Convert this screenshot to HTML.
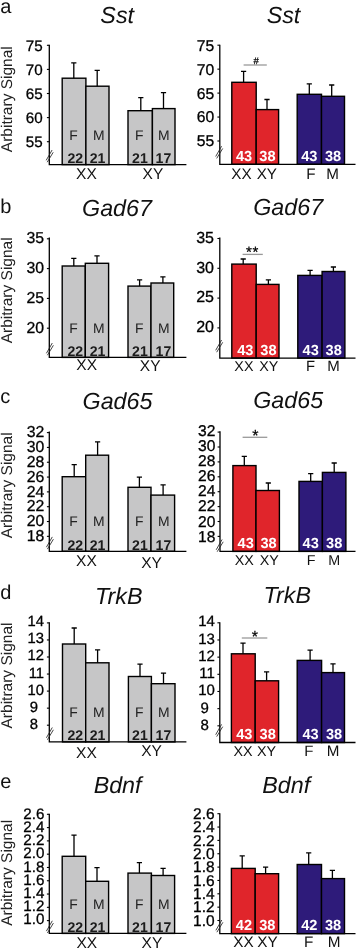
<!DOCTYPE html>
<html><head><meta charset="utf-8"><title>figure</title>
<style>
html,body{margin:0;padding:0;background:#fff;}
body{width:358px;height:949px;overflow:hidden;font-family:"Liberation Sans", sans-serif;}
svg{display:block;font-family:"Liberation Sans", sans-serif;text-rendering:geometricPrecision;will-change:transform;}
</style></head><body>
<svg width="358" height="949" viewBox="0 0 358 949">
<rect width="358" height="949" fill="#fff"/>
<text x="0.30" y="12.70" font-size="20" text-anchor="start" font-weight="normal" font-style="normal" fill="#111" >a</text>
<text transform="translate(12.00 99.20) rotate(-90)" font-size="15.5" text-anchor="middle" fill="#222">Arbitrary Signal</text>
<text x="117.20" y="23.20" font-size="23.3" text-anchor="middle" font-weight="normal" font-style="italic" fill="#111" >Sst</text>
<rect x="62.20" y="78.20" width="23.70" height="86.40" fill="#c6c6c7" stroke="#000" stroke-width="1.4"/>
<path d="M73.80 78.20V62.90M71.20 62.90H76.40" stroke="#000" stroke-width="1.3" fill="none"/>
<text x="73.60" y="140.30" font-size="13.9" text-anchor="middle" font-weight="normal" font-style="normal" fill="#222" >F</text>
<text x="75.30" y="163.10" font-size="14.1" text-anchor="middle" font-weight="bold" font-style="normal" fill="#1c1c1c" >22</text>
<rect x="85.90" y="86.20" width="23.10" height="78.40" fill="#c6c6c7" stroke="#000" stroke-width="1.4"/>
<path d="M97.20 86.20V70.30M94.60 70.30H99.80" stroke="#000" stroke-width="1.3" fill="none"/>
<text x="98.70" y="140.30" font-size="13.9" text-anchor="middle" font-weight="normal" font-style="normal" fill="#222" >M</text>
<text x="97.60" y="163.10" font-size="14.1" text-anchor="middle" font-weight="bold" font-style="normal" fill="#1c1c1c" >21</text>
<rect x="128.00" y="110.70" width="24.40" height="53.90" fill="#c6c6c7" stroke="#000" stroke-width="1.4"/>
<path d="M140.80 110.70V97.60M138.20 97.60H143.40" stroke="#000" stroke-width="1.3" fill="none"/>
<text x="139.20" y="140.30" font-size="13.9" text-anchor="middle" font-weight="normal" font-style="normal" fill="#222" >F</text>
<text x="139.90" y="163.10" font-size="14.1" text-anchor="middle" font-weight="bold" font-style="normal" fill="#1c1c1c" >21</text>
<rect x="152.40" y="108.60" width="22.60" height="56.00" fill="#c6c6c7" stroke="#000" stroke-width="1.4"/>
<path d="M163.50 108.60V92.60M160.90 92.60H166.10" stroke="#000" stroke-width="1.3" fill="none"/>
<text x="163.70" y="140.30" font-size="13.9" text-anchor="middle" font-weight="normal" font-style="normal" fill="#222" >M</text>
<text x="163.40" y="163.10" font-size="14.1" text-anchor="middle" font-weight="bold" font-style="normal" fill="#1c1c1c" >17</text>
<path d="M49.30 44.70V164.60H186.40" stroke="#000" stroke-width="1.3" fill="none"/>
<path d="M46.90 45.30H49.30" stroke="#000" stroke-width="1.1"/>
<text x="42.60" y="51.24" font-size="15.2" text-anchor="end" font-weight="normal" font-style="normal" fill="#000" stroke="#000" stroke-width="0.3">75</text>
<path d="M46.90 69.40H49.30" stroke="#000" stroke-width="1.1"/>
<text x="42.60" y="75.19" font-size="15.2" text-anchor="end" font-weight="normal" font-style="normal" fill="#000" stroke="#000" stroke-width="0.3">70</text>
<path d="M46.90 93.50H49.30" stroke="#000" stroke-width="1.1"/>
<text x="42.60" y="99.14" font-size="15.2" text-anchor="end" font-weight="normal" font-style="normal" fill="#000" stroke="#000" stroke-width="0.3">65</text>
<path d="M46.90 117.60H49.30" stroke="#000" stroke-width="1.1"/>
<text x="42.60" y="123.09" font-size="15.2" text-anchor="end" font-weight="normal" font-style="normal" fill="#000" stroke="#000" stroke-width="0.3">60</text>
<path d="M46.90 141.70H49.30" stroke="#000" stroke-width="1.1"/>
<text x="42.60" y="147.04" font-size="15.2" text-anchor="end" font-weight="normal" font-style="normal" fill="#000" stroke="#000" stroke-width="0.3">55</text>
<path d="M46.20 160.30L52.10 150.00M47.20 162.20L53.20 152.30" stroke="#222" stroke-width="0.85" fill="none"/>
<text x="86.40" y="179.20" font-size="15.5" text-anchor="middle" font-weight="normal" font-style="normal" fill="#111" >XX</text>
<text x="152.90" y="179.20" font-size="15.5" text-anchor="middle" font-weight="normal" font-style="normal" fill="#111" >XY</text>
<text x="283.50" y="23.20" font-size="23.3" text-anchor="middle" font-weight="normal" font-style="italic" fill="#111" >Sst</text>
<rect x="231.80" y="82.30" width="24.40" height="82.00" fill="#e0252b" stroke="#000" stroke-width="1.4"/>
<path d="M243.60 82.30V71.30M241.00 71.30H246.20" stroke="#000" stroke-width="1.3" fill="none"/>
<text x="244.00" y="160.80" font-size="14.6" text-anchor="middle" font-weight="bold" font-style="normal" fill="#fff" >43</text>
<rect x="256.20" y="109.60" width="22.40" height="54.70" fill="#e0252b" stroke="#000" stroke-width="1.4"/>
<path d="M267.00 109.60V99.50M264.40 99.50H269.60" stroke="#000" stroke-width="1.3" fill="none"/>
<text x="267.40" y="160.80" font-size="14.6" text-anchor="middle" font-weight="bold" font-style="normal" fill="#fff" >38</text>
<rect x="297.20" y="94.30" width="24.30" height="70.00" fill="#2e1b7a" stroke="#000" stroke-width="1.4"/>
<path d="M309.30 94.30V83.80M306.70 83.80H311.90" stroke="#000" stroke-width="1.3" fill="none"/>
<text x="309.35" y="160.80" font-size="14.6" text-anchor="middle" font-weight="bold" font-style="normal" fill="#fff" >43</text>
<rect x="321.50" y="96.30" width="23.00" height="68.00" fill="#2e1b7a" stroke="#000" stroke-width="1.4"/>
<path d="M331.70 96.30V85.00M329.10 85.00H334.30" stroke="#000" stroke-width="1.3" fill="none"/>
<text x="333.00" y="160.80" font-size="14.6" text-anchor="middle" font-weight="bold" font-style="normal" fill="#fff" >38</text>
<path d="M219.80 44.70V164.30H355.50" stroke="#000" stroke-width="1.3" fill="none"/>
<path d="M217.40 45.20H219.80" stroke="#000" stroke-width="1.1"/>
<text x="214.20" y="50.62" font-size="15.7" text-anchor="end" font-weight="normal" font-style="normal" fill="#000" stroke="#000" stroke-width="0.3">75</text>
<path d="M217.40 69.15H219.80" stroke="#000" stroke-width="1.1"/>
<text x="214.20" y="74.57" font-size="15.7" text-anchor="end" font-weight="normal" font-style="normal" fill="#000" stroke="#000" stroke-width="0.3">70</text>
<path d="M217.40 93.10H219.80" stroke="#000" stroke-width="1.1"/>
<text x="214.20" y="98.52" font-size="15.7" text-anchor="end" font-weight="normal" font-style="normal" fill="#000" stroke="#000" stroke-width="0.3">65</text>
<path d="M217.40 117.05H219.80" stroke="#000" stroke-width="1.1"/>
<text x="214.20" y="122.47" font-size="15.7" text-anchor="end" font-weight="normal" font-style="normal" fill="#000" stroke="#000" stroke-width="0.3">60</text>
<path d="M217.40 141.00H219.80" stroke="#000" stroke-width="1.1"/>
<text x="214.20" y="146.42" font-size="15.7" text-anchor="end" font-weight="normal" font-style="normal" fill="#000" stroke="#000" stroke-width="0.3">55</text>
<path d="M215.70 156.50L221.60 146.20M216.70 158.40L222.70 148.50" stroke="#222" stroke-width="0.85" fill="none"/>
<text x="241.40" y="178.50" font-size="15.2" text-anchor="middle" font-weight="normal" font-style="normal" fill="#111" >XX</text>
<text x="266.80" y="178.50" font-size="15.2" text-anchor="middle" font-weight="normal" font-style="normal" fill="#111" >XY</text>
<text x="311.00" y="178.50" font-size="15.2" text-anchor="middle" font-weight="normal" font-style="normal" fill="#111" >F</text>
<text x="332.70" y="178.50" font-size="15.2" text-anchor="middle" font-weight="normal" font-style="normal" fill="#111" >M</text>
<path d="M243.60 65.00H266.80" stroke="#999" stroke-width="1.3"/>
<text x="256.10" y="63.60" font-size="9.5" text-anchor="middle" font-weight="normal" font-style="normal" fill="#000" stroke="#000" stroke-width="0.25">#</text>
<text x="0.30" y="213.10" font-size="20" text-anchor="start" font-weight="normal" font-style="normal" fill="#111" >b</text>
<text transform="translate(12.20 290.30) rotate(-90)" font-size="15.5" text-anchor="middle" fill="#222">Arbitrary Signal</text>
<text x="117.00" y="216.00" font-size="23.3" text-anchor="middle" font-weight="normal" font-style="italic" fill="#111" >Gad67</text>
<rect x="62.20" y="266.00" width="23.10" height="91.40" fill="#c6c6c7" stroke="#000" stroke-width="1.4"/>
<path d="M73.80 266.00V258.40M71.20 258.40H76.40" stroke="#000" stroke-width="1.3" fill="none"/>
<text x="73.60" y="333.10" font-size="13.9" text-anchor="middle" font-weight="normal" font-style="normal" fill="#222" >F</text>
<text x="75.30" y="355.90" font-size="14.1" text-anchor="middle" font-weight="bold" font-style="normal" fill="#1c1c1c" >22</text>
<rect x="85.30" y="263.30" width="23.30" height="94.10" fill="#c6c6c7" stroke="#000" stroke-width="1.4"/>
<path d="M97.00 263.30V255.80M94.40 255.80H99.60" stroke="#000" stroke-width="1.3" fill="none"/>
<text x="98.70" y="333.10" font-size="13.9" text-anchor="middle" font-weight="normal" font-style="normal" fill="#222" >M</text>
<text x="97.60" y="355.90" font-size="14.1" text-anchor="middle" font-weight="bold" font-style="normal" fill="#1c1c1c" >21</text>
<rect x="128.00" y="286.10" width="23.00" height="71.30" fill="#c6c6c7" stroke="#000" stroke-width="1.4"/>
<path d="M139.60 286.10V279.80M137.00 279.80H142.20" stroke="#000" stroke-width="1.3" fill="none"/>
<text x="139.20" y="333.10" font-size="13.9" text-anchor="middle" font-weight="normal" font-style="normal" fill="#222" >F</text>
<text x="139.90" y="355.90" font-size="14.1" text-anchor="middle" font-weight="bold" font-style="normal" fill="#1c1c1c" >21</text>
<rect x="151.00" y="283.00" width="22.70" height="74.40" fill="#c6c6c7" stroke="#000" stroke-width="1.4"/>
<path d="M162.90 283.00V276.80M160.30 276.80H165.50" stroke="#000" stroke-width="1.3" fill="none"/>
<text x="163.70" y="333.10" font-size="13.9" text-anchor="middle" font-weight="normal" font-style="normal" fill="#222" >M</text>
<text x="163.40" y="355.90" font-size="14.1" text-anchor="middle" font-weight="bold" font-style="normal" fill="#1c1c1c" >17</text>
<path d="M49.30 237.60V357.40H186.40" stroke="#000" stroke-width="1.3" fill="none"/>
<path d="M46.90 238.80H49.30" stroke="#000" stroke-width="1.1"/>
<text x="44.00" y="242.56" font-size="15.8" text-anchor="end" font-weight="normal" font-style="normal" fill="#000" stroke="#000" stroke-width="0.3">35</text>
<path d="M46.90 268.60H49.30" stroke="#000" stroke-width="1.1"/>
<text x="44.00" y="272.59" font-size="15.8" text-anchor="end" font-weight="normal" font-style="normal" fill="#000" stroke="#000" stroke-width="0.3">30</text>
<path d="M46.90 298.40H49.30" stroke="#000" stroke-width="1.1"/>
<text x="44.00" y="302.62" font-size="15.8" text-anchor="end" font-weight="normal" font-style="normal" fill="#000" stroke="#000" stroke-width="0.3">25</text>
<path d="M46.90 328.20H49.30" stroke="#000" stroke-width="1.1"/>
<text x="44.00" y="332.65" font-size="15.8" text-anchor="end" font-weight="normal" font-style="normal" fill="#000" stroke="#000" stroke-width="0.3">20</text>
<path d="M46.40 353.30L52.30 343.00M47.40 355.20L53.40 345.30" stroke="#222" stroke-width="0.85" fill="none"/>
<text x="86.70" y="369.90" font-size="15.5" text-anchor="middle" font-weight="normal" font-style="normal" fill="#111" >XX</text>
<text x="150.20" y="371.20" font-size="15.5" text-anchor="middle" font-weight="normal" font-style="normal" fill="#111" >XY</text>
<text x="288.20" y="214.60" font-size="23.3" text-anchor="middle" font-weight="normal" font-style="italic" fill="#111" >Gad67</text>
<rect x="231.80" y="264.10" width="24.40" height="94.00" fill="#e0252b" stroke="#000" stroke-width="1.4"/>
<path d="M243.20 264.10V259.00M240.60 259.00H245.80" stroke="#000" stroke-width="1.3" fill="none"/>
<text x="245.30" y="354.60" font-size="14.6" text-anchor="middle" font-weight="bold" font-style="normal" fill="#fff" >43</text>
<rect x="256.20" y="284.40" width="22.80" height="73.70" fill="#e0252b" stroke="#000" stroke-width="1.4"/>
<path d="M268.40 284.40V279.80M265.80 279.80H271.00" stroke="#000" stroke-width="1.3" fill="none"/>
<text x="268.40" y="354.60" font-size="14.6" text-anchor="middle" font-weight="bold" font-style="normal" fill="#fff" >38</text>
<rect x="297.80" y="275.40" width="24.30" height="82.70" fill="#2e1b7a" stroke="#000" stroke-width="1.4"/>
<path d="M310.10 275.40V270.40M307.50 270.40H312.70" stroke="#000" stroke-width="1.3" fill="none"/>
<text x="310.65" y="354.60" font-size="14.6" text-anchor="middle" font-weight="bold" font-style="normal" fill="#fff" >43</text>
<rect x="322.10" y="271.50" width="22.80" height="86.60" fill="#2e1b7a" stroke="#000" stroke-width="1.4"/>
<path d="M333.40 271.50V267.00M330.80 267.00H336.00" stroke="#000" stroke-width="1.3" fill="none"/>
<text x="333.70" y="354.60" font-size="14.6" text-anchor="middle" font-weight="bold" font-style="normal" fill="#fff" >38</text>
<path d="M219.80 237.40V358.10H355.50" stroke="#000" stroke-width="1.3" fill="none"/>
<path d="M217.40 238.50H219.80" stroke="#000" stroke-width="1.1"/>
<text x="214.00" y="242.83" font-size="16" text-anchor="end" font-weight="normal" font-style="normal" fill="#000" stroke="#000" stroke-width="0.3">35</text>
<path d="M217.40 268.30H219.80" stroke="#000" stroke-width="1.1"/>
<text x="214.00" y="272.63" font-size="16" text-anchor="end" font-weight="normal" font-style="normal" fill="#000" stroke="#000" stroke-width="0.3">30</text>
<path d="M217.40 298.10H219.80" stroke="#000" stroke-width="1.1"/>
<text x="214.00" y="302.43" font-size="16" text-anchor="end" font-weight="normal" font-style="normal" fill="#000" stroke="#000" stroke-width="0.3">25</text>
<path d="M217.40 327.90H219.80" stroke="#000" stroke-width="1.1"/>
<text x="214.00" y="332.23" font-size="16" text-anchor="end" font-weight="normal" font-style="normal" fill="#000" stroke="#000" stroke-width="0.3">20</text>
<path d="M215.70 350.30L221.60 340.00M216.70 352.20L222.70 342.30" stroke="#222" stroke-width="0.85" fill="none"/>
<text x="243.90" y="371.00" font-size="14.3" text-anchor="middle" font-weight="normal" font-style="normal" fill="#111" >XX</text>
<text x="268.80" y="371.00" font-size="14.3" text-anchor="middle" font-weight="normal" font-style="normal" fill="#111" >XY</text>
<text x="310.40" y="371.00" font-size="14.8" text-anchor="middle" font-weight="normal" font-style="normal" fill="#111" >F</text>
<text x="333.50" y="371.00" font-size="15.0" text-anchor="middle" font-weight="normal" font-style="normal" fill="#111" >M</text>
<path d="M242.60 254.40H262.80" stroke="#999" stroke-width="1.3"/>
<text x="252.40" y="256.60" font-size="15" text-anchor="middle" font-weight="normal" font-style="normal" fill="#000" stroke="#000" stroke-width="0.25" letter-spacing="0.6">**</text>
<text x="0.30" y="403.40" font-size="20" text-anchor="start" font-weight="normal" font-style="normal" fill="#111" >c</text>
<text transform="translate(12.20 485.30) rotate(-90)" font-size="15.5" text-anchor="middle" fill="#222">Arbitrary Signal</text>
<text x="117.50" y="409.00" font-size="23.3" text-anchor="middle" font-weight="normal" font-style="italic" fill="#111" >Gad65</text>
<rect x="62.20" y="476.70" width="23.50" height="74.60" fill="#c6c6c7" stroke="#000" stroke-width="1.4"/>
<path d="M74.20 476.70V464.60M71.60 464.60H76.80" stroke="#000" stroke-width="1.3" fill="none"/>
<text x="73.60" y="525.50" font-size="13.9" text-anchor="middle" font-weight="normal" font-style="normal" fill="#222" >F</text>
<text x="75.30" y="549.80" font-size="14.1" text-anchor="middle" font-weight="bold" font-style="normal" fill="#1c1c1c" >22</text>
<rect x="85.70" y="455.20" width="22.90" height="96.10" fill="#c6c6c7" stroke="#000" stroke-width="1.4"/>
<path d="M97.60 455.20V441.90M95.00 441.90H100.20" stroke="#000" stroke-width="1.3" fill="none"/>
<text x="98.70" y="525.50" font-size="13.9" text-anchor="middle" font-weight="normal" font-style="normal" fill="#222" >M</text>
<text x="97.60" y="549.80" font-size="14.1" text-anchor="middle" font-weight="bold" font-style="normal" fill="#1c1c1c" >21</text>
<rect x="128.00" y="487.30" width="23.00" height="64.00" fill="#c6c6c7" stroke="#000" stroke-width="1.4"/>
<path d="M139.40 487.30V477.10M136.80 477.10H142.00" stroke="#000" stroke-width="1.3" fill="none"/>
<text x="139.20" y="525.50" font-size="13.9" text-anchor="middle" font-weight="normal" font-style="normal" fill="#222" >F</text>
<text x="139.90" y="549.80" font-size="14.1" text-anchor="middle" font-weight="bold" font-style="normal" fill="#1c1c1c" >21</text>
<rect x="151.00" y="495.10" width="23.60" height="56.20" fill="#c6c6c7" stroke="#000" stroke-width="1.4"/>
<path d="M163.10 495.10V484.90M160.50 484.90H165.70" stroke="#000" stroke-width="1.3" fill="none"/>
<text x="163.70" y="525.50" font-size="13.9" text-anchor="middle" font-weight="normal" font-style="normal" fill="#222" >M</text>
<text x="163.40" y="549.80" font-size="14.1" text-anchor="middle" font-weight="bold" font-style="normal" fill="#1c1c1c" >17</text>
<path d="M49.30 431.50V551.30H186.40" stroke="#000" stroke-width="1.3" fill="none"/>
<path d="M46.90 432.60H49.30" stroke="#000" stroke-width="1.1"/>
<text x="44.40" y="437.36" font-size="15.8" text-anchor="end" font-weight="normal" font-style="normal" fill="#000" stroke="#000" stroke-width="0.3">32</text>
<path d="M46.90 447.42H49.30" stroke="#000" stroke-width="1.1"/>
<text x="44.40" y="452.18" font-size="15.8" text-anchor="end" font-weight="normal" font-style="normal" fill="#000" stroke="#000" stroke-width="0.3">30</text>
<path d="M46.90 462.24H49.30" stroke="#000" stroke-width="1.1"/>
<text x="44.40" y="467.00" font-size="15.8" text-anchor="end" font-weight="normal" font-style="normal" fill="#000" stroke="#000" stroke-width="0.3">28</text>
<path d="M46.90 477.06H49.30" stroke="#000" stroke-width="1.1"/>
<text x="44.40" y="481.82" font-size="15.8" text-anchor="end" font-weight="normal" font-style="normal" fill="#000" stroke="#000" stroke-width="0.3">26</text>
<path d="M46.90 491.88H49.30" stroke="#000" stroke-width="1.1"/>
<text x="44.40" y="496.64" font-size="15.8" text-anchor="end" font-weight="normal" font-style="normal" fill="#000" stroke="#000" stroke-width="0.3">24</text>
<path d="M46.90 506.70H49.30" stroke="#000" stroke-width="1.1"/>
<text x="44.40" y="511.46" font-size="15.8" text-anchor="end" font-weight="normal" font-style="normal" fill="#000" stroke="#000" stroke-width="0.3">22</text>
<path d="M46.90 521.52H49.30" stroke="#000" stroke-width="1.1"/>
<text x="44.40" y="526.28" font-size="15.8" text-anchor="end" font-weight="normal" font-style="normal" fill="#000" stroke="#000" stroke-width="0.3">20</text>
<path d="M46.90 536.34H49.30" stroke="#000" stroke-width="1.1"/>
<text x="44.40" y="541.10" font-size="15.8" text-anchor="end" font-weight="normal" font-style="normal" fill="#000" stroke="#000" stroke-width="0.3">18</text>
<path d="M46.40 547.20L52.30 536.90M47.40 549.10L53.40 539.20" stroke="#222" stroke-width="0.85" fill="none"/>
<text x="86.40" y="565.60" font-size="15.5" text-anchor="middle" font-weight="normal" font-style="normal" fill="#111" >XX</text>
<text x="151.60" y="568.20" font-size="15.5" text-anchor="middle" font-weight="normal" font-style="normal" fill="#111" >XY</text>
<text x="288.20" y="408.30" font-size="23.3" text-anchor="middle" font-weight="normal" font-style="italic" fill="#111" >Gad65</text>
<rect x="232.90" y="465.60" width="23.10" height="85.80" fill="#e0252b" stroke="#000" stroke-width="1.4"/>
<path d="M244.30 465.60V456.40M241.70 456.40H246.90" stroke="#000" stroke-width="1.3" fill="none"/>
<text x="245.65" y="547.90" font-size="14.6" text-anchor="middle" font-weight="bold" font-style="normal" fill="#fff" >43</text>
<rect x="256.00" y="490.50" width="23.40" height="60.90" fill="#e0252b" stroke="#000" stroke-width="1.4"/>
<path d="M268.30 490.50V483.00M265.70 483.00H270.90" stroke="#000" stroke-width="1.3" fill="none"/>
<text x="268.50" y="547.90" font-size="14.6" text-anchor="middle" font-weight="bold" font-style="normal" fill="#fff" >38</text>
<rect x="299.00" y="481.40" width="23.40" height="70.00" fill="#2e1b7a" stroke="#000" stroke-width="1.4"/>
<path d="M310.70 481.40V473.60M308.10 473.60H313.30" stroke="#000" stroke-width="1.3" fill="none"/>
<text x="310.70" y="547.90" font-size="14.6" text-anchor="middle" font-weight="bold" font-style="normal" fill="#fff" >43</text>
<rect x="322.40" y="472.40" width="23.50" height="79.00" fill="#2e1b7a" stroke="#000" stroke-width="1.4"/>
<path d="M334.20 472.40V463.00M331.60 463.00H336.80" stroke="#000" stroke-width="1.3" fill="none"/>
<text x="334.15" y="547.90" font-size="14.6" text-anchor="middle" font-weight="bold" font-style="normal" fill="#fff" >38</text>
<path d="M220.00 431.20V551.40H355.50" stroke="#000" stroke-width="1.3" fill="none"/>
<path d="M217.60 432.10H220.00" stroke="#000" stroke-width="1.1"/>
<text x="215.40" y="435.98" font-size="15.6" text-anchor="end" font-weight="normal" font-style="normal" fill="#000" stroke="#000" stroke-width="0.3">32</text>
<path d="M217.60 447.00H220.00" stroke="#000" stroke-width="1.1"/>
<text x="215.40" y="451.08" font-size="15.6" text-anchor="end" font-weight="normal" font-style="normal" fill="#000" stroke="#000" stroke-width="0.3">30</text>
<path d="M217.60 461.90H220.00" stroke="#000" stroke-width="1.1"/>
<text x="215.40" y="466.18" font-size="15.6" text-anchor="end" font-weight="normal" font-style="normal" fill="#000" stroke="#000" stroke-width="0.3">28</text>
<path d="M217.60 476.80H220.00" stroke="#000" stroke-width="1.1"/>
<text x="215.40" y="481.28" font-size="15.6" text-anchor="end" font-weight="normal" font-style="normal" fill="#000" stroke="#000" stroke-width="0.3">26</text>
<path d="M217.60 491.70H220.00" stroke="#000" stroke-width="1.1"/>
<text x="215.40" y="496.38" font-size="15.6" text-anchor="end" font-weight="normal" font-style="normal" fill="#000" stroke="#000" stroke-width="0.3">24</text>
<path d="M217.60 506.60H220.00" stroke="#000" stroke-width="1.1"/>
<text x="215.40" y="511.48" font-size="15.6" text-anchor="end" font-weight="normal" font-style="normal" fill="#000" stroke="#000" stroke-width="0.3">22</text>
<path d="M217.60 521.50H220.00" stroke="#000" stroke-width="1.1"/>
<text x="215.40" y="526.58" font-size="15.6" text-anchor="end" font-weight="normal" font-style="normal" fill="#000" stroke="#000" stroke-width="0.3">20</text>
<path d="M217.60 536.40H220.00" stroke="#000" stroke-width="1.1"/>
<text x="215.40" y="541.68" font-size="15.6" text-anchor="end" font-weight="normal" font-style="normal" fill="#000" stroke="#000" stroke-width="0.3">18</text>
<path d="M216.20 549.80L222.10 539.50M217.20 551.70L223.20 541.80" stroke="#222" stroke-width="0.85" fill="none"/>
<text x="244.30" y="565.30" font-size="14.3" text-anchor="middle" font-weight="normal" font-style="normal" fill="#111" >XX</text>
<text x="269.30" y="565.30" font-size="14.3" text-anchor="middle" font-weight="normal" font-style="normal" fill="#111" >XY</text>
<text x="311.00" y="565.30" font-size="14.3" text-anchor="middle" font-weight="normal" font-style="normal" fill="#111" >F</text>
<text x="334.10" y="565.30" font-size="14.3" text-anchor="middle" font-weight="normal" font-style="normal" fill="#111" >M</text>
<path d="M242.60 437.30H267.30" stroke="#999" stroke-width="1.3"/>
<text x="255.30" y="441.40" font-size="16" text-anchor="middle" font-weight="normal" font-style="normal" fill="#000" stroke="#000" stroke-width="0.25">*</text>
<text x="0.30" y="598.50" font-size="20" text-anchor="start" font-weight="normal" font-style="normal" fill="#111" >d</text>
<text transform="translate(12.20 675.50) rotate(-90)" font-size="15.5" text-anchor="middle" fill="#222">Arbitrary Signal</text>
<text x="118.70" y="603.70" font-size="23.3" text-anchor="middle" font-weight="normal" font-style="italic" fill="#111" >TrkB</text>
<rect x="62.50" y="644.00" width="23.20" height="97.90" fill="#c6c6c7" stroke="#000" stroke-width="1.4"/>
<path d="M74.20 644.00V628.00M71.60 628.00H76.80" stroke="#000" stroke-width="1.3" fill="none"/>
<text x="73.60" y="716.60" font-size="13.9" text-anchor="middle" font-weight="normal" font-style="normal" fill="#222" >F</text>
<text x="75.30" y="740.40" font-size="14.1" text-anchor="middle" font-weight="bold" font-style="normal" fill="#1c1c1c" >22</text>
<rect x="85.70" y="662.80" width="23.30" height="79.10" fill="#c6c6c7" stroke="#000" stroke-width="1.4"/>
<path d="M97.60 662.80V649.90M95.00 649.90H100.20" stroke="#000" stroke-width="1.3" fill="none"/>
<text x="98.70" y="716.60" font-size="13.9" text-anchor="middle" font-weight="normal" font-style="normal" fill="#222" >M</text>
<text x="97.60" y="740.40" font-size="14.1" text-anchor="middle" font-weight="bold" font-style="normal" fill="#1c1c1c" >21</text>
<rect x="128.40" y="676.50" width="23.00" height="65.40" fill="#c6c6c7" stroke="#000" stroke-width="1.4"/>
<path d="M140.00 676.50V664.20M137.40 664.20H142.60" stroke="#000" stroke-width="1.3" fill="none"/>
<text x="139.20" y="716.60" font-size="13.9" text-anchor="middle" font-weight="normal" font-style="normal" fill="#222" >F</text>
<text x="139.90" y="740.40" font-size="14.1" text-anchor="middle" font-weight="bold" font-style="normal" fill="#1c1c1c" >21</text>
<rect x="151.40" y="683.70" width="23.60" height="58.20" fill="#c6c6c7" stroke="#000" stroke-width="1.4"/>
<path d="M163.50 683.70V673.20M160.90 673.20H166.10" stroke="#000" stroke-width="1.3" fill="none"/>
<text x="163.70" y="716.60" font-size="13.9" text-anchor="middle" font-weight="normal" font-style="normal" fill="#222" >M</text>
<text x="163.40" y="740.40" font-size="14.1" text-anchor="middle" font-weight="bold" font-style="normal" fill="#1c1c1c" >17</text>
<path d="M49.30 622.20V741.90H186.40" stroke="#000" stroke-width="1.3" fill="none"/>
<path d="M46.90 622.90H49.30" stroke="#000" stroke-width="1.1"/>
<text x="44.00" y="626.00" font-size="14.8" text-anchor="end" font-weight="normal" font-style="normal" fill="#000" stroke="#000" stroke-width="0.3">14</text>
<path d="M46.90 639.95H49.30" stroke="#000" stroke-width="1.1"/>
<text x="44.00" y="643.23" font-size="14.8" text-anchor="end" font-weight="normal" font-style="normal" fill="#000" stroke="#000" stroke-width="0.3">13</text>
<path d="M46.90 657.00H49.30" stroke="#000" stroke-width="1.1"/>
<text x="44.00" y="660.46" font-size="14.8" text-anchor="end" font-weight="normal" font-style="normal" fill="#000" stroke="#000" stroke-width="0.3">12</text>
<path d="M46.90 674.05H49.30" stroke="#000" stroke-width="1.1"/>
<text x="44.00" y="677.69" font-size="14.8" text-anchor="end" font-weight="normal" font-style="normal" fill="#000" stroke="#000" stroke-width="0.3">11</text>
<path d="M46.90 691.10H49.30" stroke="#000" stroke-width="1.1"/>
<text x="44.00" y="694.92" font-size="14.8" text-anchor="end" font-weight="normal" font-style="normal" fill="#000" stroke="#000" stroke-width="0.3">10</text>
<path d="M46.90 708.15H49.30" stroke="#000" stroke-width="1.1"/>
<text x="29.70" y="712.15" font-size="14.8" text-anchor="start" font-weight="normal" font-style="normal" fill="#000" stroke="#000" stroke-width="0.3">9</text>
<path d="M46.90 725.20H49.30" stroke="#000" stroke-width="1.1"/>
<text x="29.70" y="729.38" font-size="14.8" text-anchor="start" font-weight="normal" font-style="normal" fill="#000" stroke="#000" stroke-width="0.3">8</text>
<path d="M46.40 737.80L52.30 727.50M47.40 739.70L53.40 729.80" stroke="#222" stroke-width="0.85" fill="none"/>
<text x="86.40" y="758.40" font-size="15.5" text-anchor="middle" font-weight="normal" font-style="normal" fill="#111" >XX</text>
<text x="151.50" y="756.40" font-size="15.5" text-anchor="middle" font-weight="normal" font-style="normal" fill="#111" >XY</text>
<text x="287.30" y="602.60" font-size="23.3" text-anchor="middle" font-weight="normal" font-style="italic" fill="#111" >TrkB</text>
<rect x="231.40" y="653.80" width="23.80" height="88.70" fill="#e0252b" stroke="#000" stroke-width="1.4"/>
<path d="M243.00 653.80V643.20M240.40 643.20H245.60" stroke="#000" stroke-width="1.3" fill="none"/>
<text x="244.30" y="739.00" font-size="14.6" text-anchor="middle" font-weight="bold" font-style="normal" fill="#fff" >43</text>
<rect x="255.20" y="680.80" width="23.40" height="61.70" fill="#e0252b" stroke="#000" stroke-width="1.4"/>
<path d="M266.60 680.80V671.80M264.00 671.80H269.20" stroke="#000" stroke-width="1.3" fill="none"/>
<text x="267.70" y="739.00" font-size="14.6" text-anchor="middle" font-weight="bold" font-style="normal" fill="#fff" >38</text>
<rect x="297.20" y="660.40" width="24.40" height="82.10" fill="#2e1b7a" stroke="#000" stroke-width="1.4"/>
<path d="M310.10 660.40V650.20M307.50 650.20H312.70" stroke="#000" stroke-width="1.3" fill="none"/>
<text x="310.60" y="739.00" font-size="14.6" text-anchor="middle" font-weight="bold" font-style="normal" fill="#fff" >43</text>
<rect x="321.60" y="672.60" width="22.90" height="69.90" fill="#2e1b7a" stroke="#000" stroke-width="1.4"/>
<path d="M333.00 672.60V663.80M330.40 663.80H335.60" stroke="#000" stroke-width="1.3" fill="none"/>
<text x="334.05" y="739.00" font-size="14.6" text-anchor="middle" font-weight="bold" font-style="normal" fill="#fff" >38</text>
<path d="M219.80 622.20V742.50H355.50" stroke="#000" stroke-width="1.3" fill="none"/>
<path d="M217.40 622.80H219.80" stroke="#000" stroke-width="1.1"/>
<text x="214.90" y="626.47" font-size="15" text-anchor="end" font-weight="normal" font-style="normal" fill="#000" stroke="#000" stroke-width="0.3">14</text>
<path d="M217.40 639.97H219.80" stroke="#000" stroke-width="1.1"/>
<text x="214.90" y="643.72" font-size="15" text-anchor="end" font-weight="normal" font-style="normal" fill="#000" stroke="#000" stroke-width="0.3">13</text>
<path d="M217.40 657.14H219.80" stroke="#000" stroke-width="1.1"/>
<text x="214.90" y="660.97" font-size="15" text-anchor="end" font-weight="normal" font-style="normal" fill="#000" stroke="#000" stroke-width="0.3">12</text>
<path d="M217.40 674.31H219.80" stroke="#000" stroke-width="1.1"/>
<text x="214.90" y="678.22" font-size="15" text-anchor="end" font-weight="normal" font-style="normal" fill="#000" stroke="#000" stroke-width="0.3">11</text>
<path d="M217.40 691.48H219.80" stroke="#000" stroke-width="1.1"/>
<text x="214.90" y="695.47" font-size="15" text-anchor="end" font-weight="normal" font-style="normal" fill="#000" stroke="#000" stroke-width="0.3">10</text>
<path d="M217.40 708.65H219.80" stroke="#000" stroke-width="1.1"/>
<text x="200.40" y="712.72" font-size="15" text-anchor="start" font-weight="normal" font-style="normal" fill="#000" stroke="#000" stroke-width="0.3">9</text>
<path d="M217.40 725.82H219.80" stroke="#000" stroke-width="1.1"/>
<text x="200.40" y="729.97" font-size="15" text-anchor="start" font-weight="normal" font-style="normal" fill="#000" stroke="#000" stroke-width="0.3">8</text>
<path d="M215.70 734.70L221.60 724.40M216.70 736.60L222.70 726.70" stroke="#222" stroke-width="0.85" fill="none"/>
<text x="243.10" y="756.30" font-size="14.3" text-anchor="middle" font-weight="normal" font-style="normal" fill="#111" >XX</text>
<text x="266.60" y="756.30" font-size="14.3" text-anchor="middle" font-weight="normal" font-style="normal" fill="#111" >XY</text>
<text x="308.80" y="756.30" font-size="15.0" text-anchor="middle" font-weight="normal" font-style="normal" fill="#111" >F</text>
<text x="333.10" y="756.30" font-size="15.2" text-anchor="middle" font-weight="normal" font-style="normal" fill="#111" >M</text>
<path d="M241.80 638.00H267.30" stroke="#999" stroke-width="1.3"/>
<text x="254.80" y="642.20" font-size="16" text-anchor="middle" font-weight="normal" font-style="normal" fill="#000" stroke="#000" stroke-width="0.25">*</text>
<text x="0.30" y="787.90" font-size="20" text-anchor="start" font-weight="normal" font-style="normal" fill="#111" >e</text>
<text transform="translate(12.20 872.80) rotate(-90)" font-size="15.5" text-anchor="middle" fill="#222">Arbitrary Signal</text>
<text x="117.60" y="792.60" font-size="23.3" text-anchor="middle" font-weight="normal" font-style="italic" fill="#111" >Bdnf</text>
<rect x="62.20" y="856.30" width="23.50" height="77.10" fill="#c6c6c7" stroke="#000" stroke-width="1.4"/>
<path d="M74.00 856.30V835.20M71.40 835.20H76.60" stroke="#000" stroke-width="1.3" fill="none"/>
<text x="73.60" y="908.60" font-size="13.9" text-anchor="middle" font-weight="normal" font-style="normal" fill="#222" >F</text>
<text x="75.30" y="931.90" font-size="14.1" text-anchor="middle" font-weight="bold" font-style="normal" fill="#1c1c1c" >22</text>
<rect x="85.70" y="881.30" width="22.90" height="52.10" fill="#c6c6c7" stroke="#000" stroke-width="1.4"/>
<path d="M97.00 881.30V867.70M94.40 867.70H99.60" stroke="#000" stroke-width="1.3" fill="none"/>
<text x="98.70" y="908.60" font-size="13.9" text-anchor="middle" font-weight="normal" font-style="normal" fill="#222" >M</text>
<text x="97.60" y="931.90" font-size="14.1" text-anchor="middle" font-weight="bold" font-style="normal" fill="#1c1c1c" >21</text>
<rect x="128.00" y="873.10" width="23.40" height="60.30" fill="#c6c6c7" stroke="#000" stroke-width="1.4"/>
<path d="M139.40 873.10V862.60M136.80 862.60H142.00" stroke="#000" stroke-width="1.3" fill="none"/>
<text x="139.20" y="908.60" font-size="13.9" text-anchor="middle" font-weight="normal" font-style="normal" fill="#222" >F</text>
<text x="139.90" y="931.90" font-size="14.1" text-anchor="middle" font-weight="bold" font-style="normal" fill="#1c1c1c" >21</text>
<rect x="151.40" y="875.50" width="23.20" height="57.90" fill="#c6c6c7" stroke="#000" stroke-width="1.4"/>
<path d="M163.10 875.50V868.40M160.50 868.40H165.70" stroke="#000" stroke-width="1.3" fill="none"/>
<text x="163.70" y="908.60" font-size="13.9" text-anchor="middle" font-weight="normal" font-style="normal" fill="#222" >M</text>
<text x="163.40" y="931.90" font-size="14.1" text-anchor="middle" font-weight="bold" font-style="normal" fill="#1c1c1c" >17</text>
<path d="M49.30 813.70V933.40H186.40" stroke="#000" stroke-width="1.3" fill="none"/>
<path d="M46.90 814.30H49.30" stroke="#000" stroke-width="1.1"/>
<text x="44.40" y="818.84" font-size="15.2" text-anchor="end" font-weight="normal" font-style="normal" fill="#000" stroke="#000" stroke-width="0.3">2.6</text>
<path d="M46.90 827.59H49.30" stroke="#000" stroke-width="1.1"/>
<text x="44.40" y="832.03" font-size="15.2" text-anchor="end" font-weight="normal" font-style="normal" fill="#000" stroke="#000" stroke-width="0.3">2.4</text>
<path d="M46.90 840.88H49.30" stroke="#000" stroke-width="1.1"/>
<text x="44.40" y="845.22" font-size="15.2" text-anchor="end" font-weight="normal" font-style="normal" fill="#000" stroke="#000" stroke-width="0.3">2.2</text>
<path d="M46.90 854.17H49.30" stroke="#000" stroke-width="1.1"/>
<text x="44.40" y="858.41" font-size="15.2" text-anchor="end" font-weight="normal" font-style="normal" fill="#000" stroke="#000" stroke-width="0.3">2.0</text>
<path d="M46.90 867.46H49.30" stroke="#000" stroke-width="1.1"/>
<text x="44.40" y="871.60" font-size="15.2" text-anchor="end" font-weight="normal" font-style="normal" fill="#000" stroke="#000" stroke-width="0.3">1.8</text>
<path d="M46.90 880.75H49.30" stroke="#000" stroke-width="1.1"/>
<text x="44.40" y="884.79" font-size="15.2" text-anchor="end" font-weight="normal" font-style="normal" fill="#000" stroke="#000" stroke-width="0.3">1.6</text>
<path d="M46.90 894.04H49.30" stroke="#000" stroke-width="1.1"/>
<text x="44.40" y="897.98" font-size="15.2" text-anchor="end" font-weight="normal" font-style="normal" fill="#000" stroke="#000" stroke-width="0.3">1.4</text>
<path d="M46.90 907.33H49.30" stroke="#000" stroke-width="1.1"/>
<text x="44.40" y="911.17" font-size="15.2" text-anchor="end" font-weight="normal" font-style="normal" fill="#000" stroke="#000" stroke-width="0.3">1.2</text>
<path d="M46.90 920.62H49.30" stroke="#000" stroke-width="1.1"/>
<text x="44.40" y="924.36" font-size="15.2" text-anchor="end" font-weight="normal" font-style="normal" fill="#000" stroke="#000" stroke-width="0.3">1.0</text>
<path d="M46.40 931.10L52.30 920.80M47.40 933.00L53.40 923.10" stroke="#222" stroke-width="0.85" fill="none"/>
<text x="86.80" y="947.60" font-size="15.5" text-anchor="middle" font-weight="normal" font-style="normal" fill="#111" >XX</text>
<text x="151.90" y="947.60" font-size="15.5" text-anchor="middle" font-weight="normal" font-style="normal" fill="#111" >XY</text>
<text x="286.20" y="792.60" font-size="23.3" text-anchor="middle" font-weight="normal" font-style="italic" fill="#111" >Bdnf</text>
<rect x="231.40" y="868.40" width="23.80" height="65.20" fill="#e0252b" stroke="#000" stroke-width="1.4"/>
<path d="M242.20 868.40V855.90M239.60 855.90H244.80" stroke="#000" stroke-width="1.3" fill="none"/>
<text x="243.90" y="930.10" font-size="14.6" text-anchor="middle" font-weight="bold" font-style="normal" fill="#fff" >42</text>
<rect x="255.20" y="873.70" width="23.40" height="59.90" fill="#e0252b" stroke="#000" stroke-width="1.4"/>
<path d="M265.60 873.70V867.10M263.00 867.10H268.20" stroke="#000" stroke-width="1.3" fill="none"/>
<text x="267.30" y="930.10" font-size="14.6" text-anchor="middle" font-weight="bold" font-style="normal" fill="#fff" >38</text>
<rect x="297.20" y="864.50" width="24.30" height="69.10" fill="#2e1b7a" stroke="#000" stroke-width="1.4"/>
<path d="M308.70 864.50V852.80M306.10 852.80H311.30" stroke="#000" stroke-width="1.3" fill="none"/>
<text x="309.35" y="930.10" font-size="14.6" text-anchor="middle" font-weight="bold" font-style="normal" fill="#fff" >42</text>
<rect x="321.50" y="878.60" width="23.00" height="55.00" fill="#2e1b7a" stroke="#000" stroke-width="1.4"/>
<path d="M332.40 878.60V870.40M329.80 870.40H335.00" stroke="#000" stroke-width="1.3" fill="none"/>
<text x="333.00" y="930.10" font-size="14.6" text-anchor="middle" font-weight="bold" font-style="normal" fill="#fff" >38</text>
<path d="M219.80 813.20V933.60H355.50" stroke="#000" stroke-width="1.3" fill="none"/>
<path d="M217.40 813.70H219.80" stroke="#000" stroke-width="1.1"/>
<text x="214.60" y="818.85" font-size="15.5" text-anchor="end" font-weight="normal" font-style="normal" fill="#000" stroke="#000" stroke-width="0.3">2.6</text>
<path d="M217.40 827.05H219.80" stroke="#000" stroke-width="1.1"/>
<text x="214.60" y="832.20" font-size="15.5" text-anchor="end" font-weight="normal" font-style="normal" fill="#000" stroke="#000" stroke-width="0.3">2.4</text>
<path d="M217.40 840.40H219.80" stroke="#000" stroke-width="1.1"/>
<text x="214.60" y="845.55" font-size="15.5" text-anchor="end" font-weight="normal" font-style="normal" fill="#000" stroke="#000" stroke-width="0.3">2.2</text>
<path d="M217.40 853.75H219.80" stroke="#000" stroke-width="1.1"/>
<text x="214.60" y="858.90" font-size="15.5" text-anchor="end" font-weight="normal" font-style="normal" fill="#000" stroke="#000" stroke-width="0.3">2.0</text>
<path d="M217.40 867.10H219.80" stroke="#000" stroke-width="1.1"/>
<text x="214.60" y="872.25" font-size="15.5" text-anchor="end" font-weight="normal" font-style="normal" fill="#000" stroke="#000" stroke-width="0.3">1.8</text>
<path d="M217.40 880.45H219.80" stroke="#000" stroke-width="1.1"/>
<text x="214.60" y="885.60" font-size="15.5" text-anchor="end" font-weight="normal" font-style="normal" fill="#000" stroke="#000" stroke-width="0.3">1.6</text>
<path d="M217.40 893.80H219.80" stroke="#000" stroke-width="1.1"/>
<text x="214.60" y="898.95" font-size="15.5" text-anchor="end" font-weight="normal" font-style="normal" fill="#000" stroke="#000" stroke-width="0.3">1.4</text>
<path d="M217.40 907.15H219.80" stroke="#000" stroke-width="1.1"/>
<text x="214.60" y="912.30" font-size="15.5" text-anchor="end" font-weight="normal" font-style="normal" fill="#000" stroke="#000" stroke-width="0.3">1.2</text>
<path d="M217.40 920.50H219.80" stroke="#000" stroke-width="1.1"/>
<text x="214.60" y="925.65" font-size="15.5" text-anchor="end" font-weight="normal" font-style="normal" fill="#000" stroke="#000" stroke-width="0.3">1.0</text>
<path d="M215.90 930.30L221.80 920.00M216.90 932.20L222.90 922.30" stroke="#222" stroke-width="0.85" fill="none"/>
<text x="243.40" y="947.00" font-size="15.3" text-anchor="middle" font-weight="normal" font-style="normal" fill="#111" >XX</text>
<text x="267.40" y="947.00" font-size="15.3" text-anchor="middle" font-weight="normal" font-style="normal" fill="#111" >XY</text>
<text x="308.60" y="947.00" font-size="15.3" text-anchor="middle" font-weight="normal" font-style="normal" fill="#111" >F</text>
<text x="334.00" y="947.00" font-size="15.3" text-anchor="middle" font-weight="normal" font-style="normal" fill="#111" >M</text>
</svg>
</body></html>
